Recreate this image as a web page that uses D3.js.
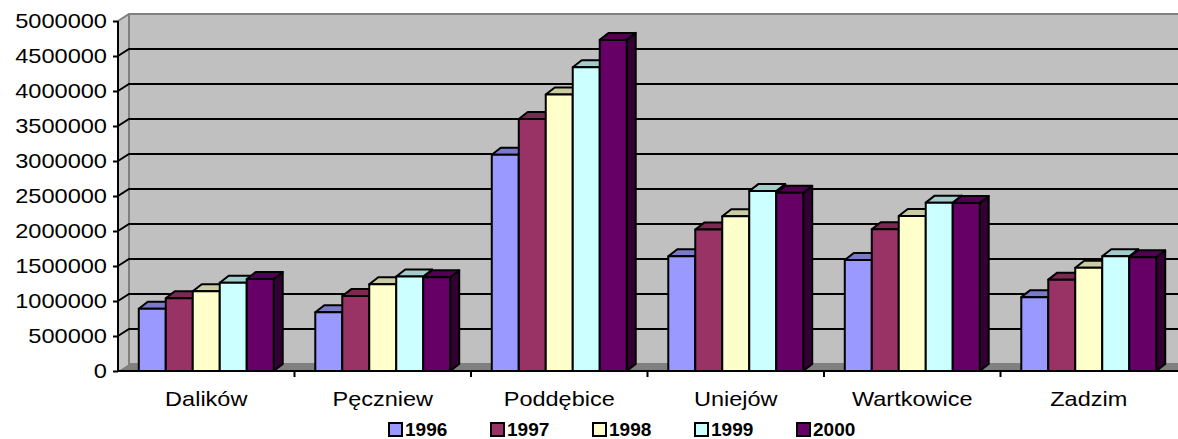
<!DOCTYPE html>
<html>
<head>
<meta charset="utf-8">
<script src="https://cdn.jsdelivr.net/npm/d3@7"></script>
<style>
  body { margin: 0; background: #fff; }
  svg { display: block; font-family: "Liberation Sans", Arial, sans-serif; }
</style>
</head>
<body>
<div id="chart"></div>
<script>
const categories = ["Dalików", "Pęczniew", "Poddębice", "Uniejów", "Wartkowice", "Zadzim"];
const years = ["1996", "1997", "1998", "1999", "2000"];
const v1996 = [890000, 840000, 3090000, 1640000, 1585000, 1055000];
const v1997 = [1040000, 1070000, 3600000, 2020000, 2025000, 1305000];
const v1998 = [1140000, 1240000, 3950000, 2210000, 2215000, 1475000];
const v1999 = [1260000, 1350000, 4340000, 2570000, 2405000, 1640000];
const v2000 = [1315000, 1340000, 4730000, 2545000, 2400000, 1625000];
const colors = ["#9999ff", "#993366", "#ffffcc", "#ccffff", "#660066"];
const yTicks = d3.range(0, 5000001, 500000);

const series = [v1996, v1997, v1998, v1999, v2000];

const W = 1178, H = 439;
const plotLeft = 118, plotRight = 1177, plotBottom = 371, plotTop = 21;
const wallDx = 11, wallDy = 7;   // depth of the walls
const barDx = 9, barDy = 7;      // depth of each bar

const svg = d3.select("#chart").append("svg")
  .attr("width", W).attr("height", H);

const x0 = d3.scaleBand().domain(categories).range([plotLeft, plotRight]);
const x1 = d3.scaleBand().domain(years).range([0, x0.bandwidth()]).paddingOuter(0.77);
const y = d3.scaleLinear().domain([0, 5000000]).range([plotBottom, plotTop]);

const shade = (c, k) => { const r = d3.rgb(c); return d3.rgb(r.r * k, r.g * k, r.b * k).formatHex(); };

// back wall
svg.append("rect")
  .attr("x", plotLeft + wallDx).attr("y", plotTop - wallDy)
  .attr("width", W - plotLeft - wallDx).attr("height", plotBottom - plotTop)
  .attr("fill", "#c0c0c0");

// left side wall
svg.append("polygon")
  .attr("points", [[plotLeft, plotBottom], [plotLeft, plotTop], [plotLeft + wallDx, plotTop - wallDy], [plotLeft + wallDx, plotBottom - wallDy]].join(" "))
  .attr("fill", "#c4c4c4");

// floor
svg.append("polygon")
  .attr("points", [[plotLeft, plotBottom], [plotLeft + wallDx, plotBottom - wallDy], [W, plotBottom - wallDy], [W, plotBottom]].join(" "))
  .attr("fill", "#808080");

// wall edges
svg.append("path")
  .attr("d", `M${plotLeft},${plotTop} L${plotLeft + wallDx},${plotTop - wallDy} L${W},${plotTop - wallDy} M${plotLeft + wallDx},${plotTop - wallDy} L${plotLeft + wallDx},${plotBottom - wallDy} L${W},${plotBottom - wallDy}`)
  .attr("fill", "none").attr("stroke", "#808080").attr("stroke-width", 2);

// gridlines
const grid = yTicks.filter(d => d > 0 && d < 5000000);
svg.append("g").selectAll("path").data(grid).enter().append("path")
  .attr("d", d => `M${plotLeft},${y(d)} L${plotLeft + wallDx},${y(d) - wallDy} L${W},${y(d) - wallDy}`)
  .attr("fill", "none").attr("stroke", "#000").attr("stroke-width", 2);

// bars
const bars = [];
categories.forEach((c, i) => {
  years.forEach((yr, j) => {
    bars.push({cat: c, year: yr, value: series[j][i], color: colors[j]});
  });
});

const g = svg.append("g").selectAll("g").data(bars).enter().append("g")
  .attr("stroke", "#000").attr("stroke-width", 2).attr("stroke-linejoin", "round");

g.each(function(d) {
  const sel = d3.select(this);
  const xa = x0(d.cat) + x1(d.year);
  const w = x1.bandwidth();
  const yt = y(d.value);
  sel.append("polygon")
    .attr("points", [[xa + w, plotBottom], [xa + w, yt], [xa + w + barDx, yt - barDy], [xa + w + barDx, plotBottom - barDy]].join(" "))
    .attr("fill", shade(d.color, 0.5));
  sel.append("polygon")
    .attr("points", [[xa, yt], [xa + barDx, yt - barDy], [xa + w + barDx, yt - barDy], [xa + w, yt]].join(" "))
    .attr("fill", shade(d.color, 0.8));
  sel.append("rect")
    .attr("x", xa).attr("y", yt).attr("width", w).attr("height", plotBottom - yt)
    .attr("fill", d.color);
});

// y axis
const yAxis = svg.append("g").attr("transform", `translate(${plotLeft},0)`)
  .call(d3.axisLeft(y).tickValues(yTicks).tickSize(5).tickPadding(6).tickFormat(d3.format("d")));
yAxis.select(".domain").attr("stroke", "#000").attr("stroke-width", 2).attr("d", `M0,${plotTop}V${plotBottom}`);
yAxis.selectAll(".tick line").attr("stroke", "#000").attr("stroke-width", 2);
yAxis.selectAll(".tick text")
  .attr("font-size", 20).attr("fill", "#000").attr("font-family", "Liberation Sans, Arial, sans-serif")
  .attr("x", 0).attr("transform", "translate(-11,0) scale(1.18,1)");

// x axis
const xAxis = svg.append("g").attr("transform", `translate(0,${plotBottom})`)
  .call(d3.axisBottom(x0).tickSize(0).tickPadding(35));
xAxis.select(".domain").attr("stroke", "#000").attr("stroke-width", 2).attr("d", `M${plotLeft},0H${W}`);
xAxis.selectAll(".tick text")
  .attr("font-size", 21).attr("fill", "#000").attr("font-family", "Liberation Sans, Arial, sans-serif")
  .attr("dy", "0").attr("transform", "scale(1.12,1)");

// category separator ticks
svg.append("g").selectAll("line").data(categories.slice(1)).enter().append("line")
  .attr("x1", d => x0(d)).attr("x2", d => x0(d))
  .attr("y1", plotBottom).attr("y2", plotBottom + 6)
  .attr("stroke", "#000").attr("stroke-width", 2);

// legend
const legend = svg.append("g").selectAll("g").data(years).enter().append("g")
  .attr("transform", (d, i) => `translate(${389 + i * 102},423)`);
legend.append("rect").attr("width", 13).attr("height", 13)
  .attr("fill", (d, i) => colors[i]).attr("stroke", "#000").attr("stroke-width", 2);
legend.append("text").attr("x", 16).attr("y", 13)
  .attr("font-size", 19).attr("font-weight", "bold").text(d => d);
</script>
</body>
</html>
